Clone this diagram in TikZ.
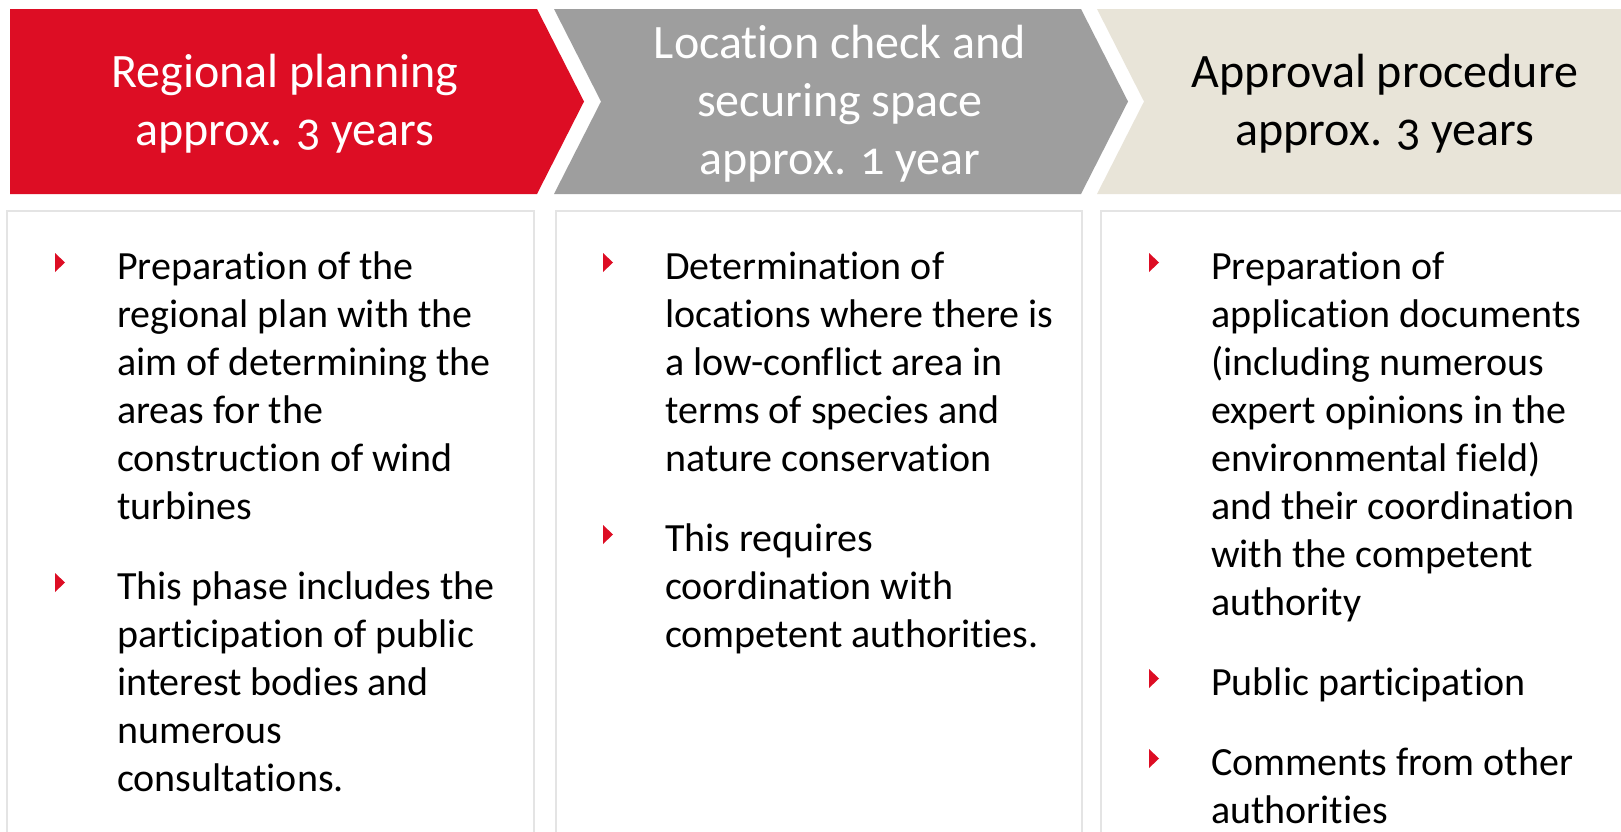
\documentclass[tikz,border=0pt]{standalone}
\usepackage{fontspec}
\setmainfont{Carlito}[Numbers=OldStyle, Ligatures=NoCommon]
\usetikzlibrary{calc}
\definecolor{phasered}{RGB}{221,13,36}
\definecolor{phasegray}{RGB}{158,158,158}
\definecolor{phasebeige}{RGB}{232,228,216}
\definecolor{panelline}{RGB}{228,228,228}
\begin{document}
\begin{tikzpicture}[x=1pt,y=-1pt,
  header/.style={inner sep=0pt, align=center, font=\fontsize{48}{58}\selectfont},
  bodytext/.style={inner sep=0pt, anchor=north west, align=left,
    font=\fontsize{40}{48}\selectfont, text=black},
  panel/.style={draw=panelline, line width=2pt, fill=white, anchor=north west,
    minimum height=700pt, inner sep=0pt},
  bulletmark/.pic={\fill[phasered] (0,-9.5) -- (10,0) -- (0,9.5) -- cycle;}
]
\useasboundingbox (0,0) rectangle (1621,831);
\clip (0,0) rectangle (1621,831);
\fill[white] (0,0) rectangle (1621,831);

% phase arrows
\fill[phasered]   (10,9) -- (537,9) -- (584,101.5) -- (537,194) -- (10,194) -- cycle;
\fill[phasegray]  (554,9) -- (1081,9) -- (1128,101.5) -- (1081,194) -- (554,194) -- (601,101.5) -- cycle;
\fill[phasebeige] (1097,9) -- (1621,9) -- (1621,194) -- (1097,194) -- (1144,101.5) -- cycle;

\node[header, text=white] (h1) at (285,105) {\strut Regional planning\\\strut approx. 3 years};
\node[header, text=white] (h2) at (840,105) {\strut Location check and\\\strut securing space\\\strut approx. 1 year};
\node[header, text=black] (h3) at (1385,105) {\strut Approval procedure\\\strut approx. 3 years};

% detail panels
\node[panel, minimum width=527pt] (p1) at (6,210) {};
\node[panel, minimum width=526pt] (p2) at (555,210) {};
\node[panel, minimum width=600pt] (p3) at (1100,210) {};

% first column
\node[bodytext] (b11) at (117,245.4) {\strut Preparation of the\\regional plan with the\\aim of determining the\\areas for the\\construction of wind\\turbines};
\node[bodytext] (b12) at (117,565.4) {\strut This phase includes the\\participation of public\\interest bodies and\\numerous\\consultations.};

% second column
\node[bodytext] (b21) at (665,245.4) {\strut Determination of\\locations where there is\\a low-conflict area in\\terms of species and\\nature conservation};
\node[bodytext] (b22) at (665,517.4) {\strut This requires\\coordination with\\competent authorities.};

% third column
\node[bodytext] (b31) at (1211,245.4) {\strut Preparation of\\application documents\\(including numerous\\expert opinions in the\\environmental field)\\and their coordination\\with the competent\\authority};
\node[bodytext] (b32) at (1211,661.4) {\strut Public participation};
\node[bodytext] (b33) at (1211,741.4) {\strut Comments from other\\authorities};

% bullet markers
\foreach \b in {b11,b12,b21,b22,b31,b32,b33}
  \pic at ($(\b.north west)+(-62,17.1)$) {bulletmark};
\end{tikzpicture}
\end{document}
